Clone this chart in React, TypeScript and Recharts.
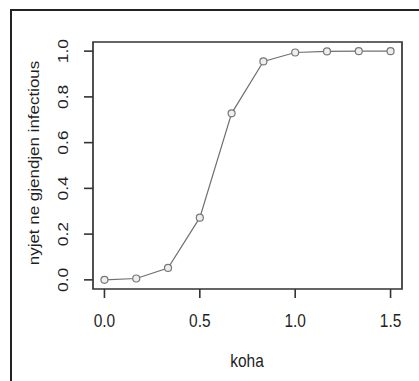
import { LineChart, Line, XAxis, YAxis, ReferenceArea } from 'recharts'

const times = [0, 1 / 6, 2 / 6, 0.5, 4 / 6, 5 / 6, 1.0, 7 / 6, 8 / 6, 1.5]
const infected = [0, 0.006, 0.052, 0.272, 0.728, 0.955, 0.994, 0.999, 1.0, 1.0]
const xTicks = [0, 0.5, 1.0, 1.5]
const yTicks = [0, 0.2, 0.4, 0.6, 0.8, 1.0]

const data = times.map((t, i) => ({ t, v: infected[i] }))

const FONT = 'Liberation Sans, Arial, sans-serif'
const INK = '#1f1f1f'
const STRETCH = 1.13

function XTick(props: any) {
  const { x, y, payload } = props
  return (
    <g transform={`translate(${x},${y + 27}) scale(1,${STRETCH})`}>
      <text x={0} y={0} textAnchor="middle" fontSize={15.5} fontFamily={FONT} fill={INK}>
        {Number(payload.value).toFixed(1)}
      </text>
    </g>
  )
}

function YTick(props: any) {
  const { x, y, payload } = props
  return (
    <g transform={`translate(${x - 14},${y}) rotate(-90) scale(${STRETCH},1)`}>
      <text x={0} y={0} textAnchor="middle" fontSize={15.5} fontFamily={FONT} fill={INK}>
        {Number(payload.value).toFixed(1)}
      </text>
    </g>
  )
}

export default function App() {
  return (
    <div style={{ position: 'absolute', left: 0, top: 0, width: 419, height: 381, background: '#fff', overflow: 'hidden' }}>
      <div
        style={{
          position: 'absolute',
          left: 10,
          top: 9,
          width: 420,
          height: 380,
          borderTop: '2px solid #222',
          borderLeft: '2px solid #222',
        }}
      />
      <div style={{ position: 'absolute', left: 0, top: 0 }}>
        <LineChart width={419} height={381} data={data} margin={{ top: 42, right: 17, bottom: 62, left: 53 }}>
          <XAxis
            dataKey="t"
            type="number"
            domain={[-0.06, 1.56]}
            ticks={xTicks}
            axisLine={false}
            tickLine={{ stroke: '#333', strokeWidth: 1.6 }}
            tickSize={9}
            tickMargin={2}
            tick={<XTick />}
            height={30}
            label={{
              content: () => (
                <g transform={`translate(247,367) scale(1,${STRETCH})`}>
                  <text x={0} y={0} textAnchor="middle" fontSize={15.5} fontFamily={FONT} fill={INK}>
                    koha
                  </text>
                </g>
              ),
            }}
          />
          <YAxis
            type="number"
            domain={[-0.04, 1.04]}
            ticks={yTicks}
            axisLine={false}
            tickLine={{ stroke: '#333', strokeWidth: 1.6 }}
            tickSize={9}
            tickMargin={2}
            tick={<YTick />}
            width={40}
            label={{
              content: () => (
                <g transform={`translate(39,163) rotate(-90) scale(${STRETCH},1)`}>
                  <text x={0} y={0} textAnchor="middle" fontSize={15} fontFamily={FONT} fill={INK}>
                    nyjet ne gjendjen infectious
                  </text>
                </g>
              ),
            }}
          />
          <ReferenceArea x1={-0.06} x2={1.56} y1={-0.04} y2={1.04} fill="none" stroke="#333" strokeWidth={1.7} />
          <Line
            type="linear"
            dataKey="v"
            stroke="#707070"
            strokeWidth={1.2}
            dot={{ r: 3.5, fill: '#eeeeee', stroke: '#777', strokeWidth: 1.2 }}
            isAnimationActive={false}
          />
        </LineChart>
      </div>
    </div>
  )
}
